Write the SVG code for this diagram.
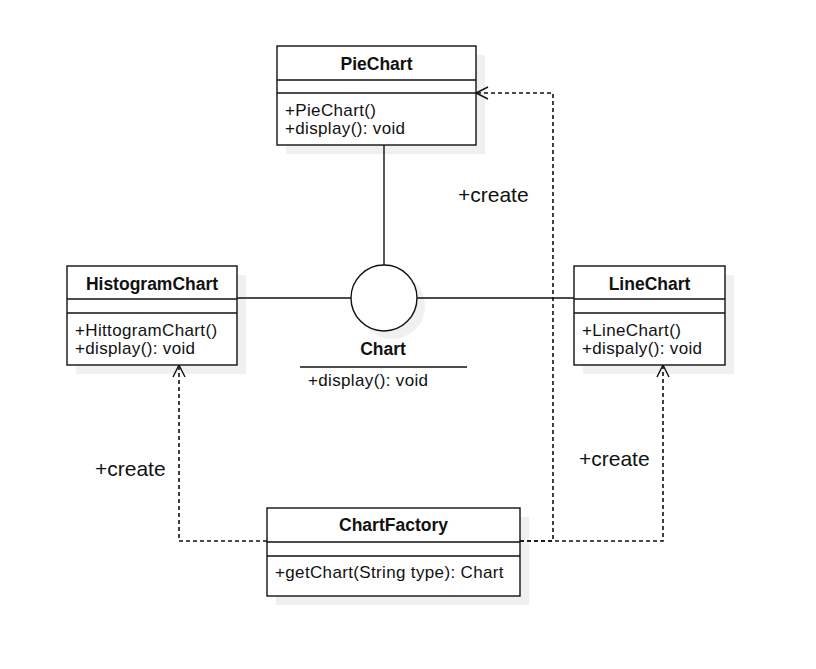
<svg xmlns="http://www.w3.org/2000/svg" width="816" height="669" viewBox="0 0 816 669">
<style>
text{font-family:"Liberation Sans",Arial,sans-serif;fill:#111;}
.t{font-size:17.5px;font-weight:bold;text-anchor:middle;}
.m{font-size:17px;letter-spacing:0.35px;}
.l{font-size:21px;}
.box{fill:#fff;stroke:#111;stroke-width:1.4;}
.sh{fill:#f0f0f0;stroke:none;}
.div{stroke:#111;stroke-width:1.4;}
.solid{fill:none;stroke:#111;stroke-width:1.4;}
.dash{fill:none;stroke:#111;stroke-width:1.6;stroke-dasharray:4 3;}
.arr{fill:none;stroke:#111;stroke-width:1.4;}
</style>
<rect width="816" height="669" fill="#fff"/>
<g id="shadows">
<rect class="sh" x="286" y="55" width="199" height="99"/>
<rect class="sh" x="76" y="275" width="170" height="99"/>
<rect class="sh" x="583" y="275" width="151" height="99"/>
<circle class="sh" cx="392" cy="306" r="33"/>
<rect class="sh" x="276" y="517" width="253" height="88"/>
</g>
<g id="connectors">
<line class="solid" x1="384" y1="145" x2="384" y2="265"/>
<line class="solid" x1="237" y1="298" x2="351" y2="298"/>
<line class="solid" x1="417" y1="298" x2="574" y2="298"/>
<path class="dash" d="M267,541 H179 V366"/>
<path class="arr" d="M173,377 L179,365 L185,377"/>
<path class="dash" d="M520,541 H553 V93 H477"/>
<path class="arr" d="M488,87 L476,93 L488,99"/>
<path class="dash" d="M520,541 H663 V366"/>
<path class="arr" d="M657,377 L663,365 L669,377"/>
<text class="l" x="458" y="202">+create</text>
<text class="l" x="95" y="476">+create</text>
<text class="l" x="579" y="466">+create</text>
</g>
<g id="PieChart">
<rect class="box" x="277" y="46" width="199" height="99"/>
<line class="div" x1="277" y1="80" x2="476" y2="80"/>
<line class="div" x1="277" y1="93" x2="476" y2="93"/>
<text class="t" x="376.5" y="69.5">PieChart</text>
<text class="m" x="285" y="116">+PieChart()</text>
<text class="m" x="285" y="134">+display(): void</text>
</g>
<g id="HistogramChart">
<rect class="box" x="67" y="266" width="170" height="99"/>
<line class="div" x1="67" y1="299" x2="237" y2="299"/>
<line class="div" x1="67" y1="313" x2="237" y2="313"/>
<text class="t" x="152" y="289.5">HistogramChart</text>
<text class="m" x="75" y="336">+HittogramChart()</text>
<text class="m" x="75" y="354">+display(): void</text>
</g>
<g id="LineChart">
<rect class="box" x="574" y="266" width="151" height="99"/>
<line class="div" x1="574" y1="299" x2="725" y2="299"/>
<line class="div" x1="574" y1="313" x2="725" y2="313"/>
<text class="t" x="649.5" y="289.5">LineChart</text>
<text class="m" x="582" y="336">+LineChart()</text>
<text class="m" x="582" y="354">+dispaly(): void</text>
</g>
<g id="Chart">
<circle class="box" cx="384" cy="298" r="33"/>
<text class="t" x="383" y="355">Chart</text>
<line class="div" x1="300" y1="367" x2="467" y2="367"/>
<text class="m" x="308" y="386">+display(): void</text>
</g>
<g id="ChartFactory">
<rect class="box" x="267" y="508" width="253" height="88"/>
<line class="div" x1="267" y1="542" x2="520" y2="542"/>
<line class="div" x1="267" y1="556" x2="520" y2="556"/>
<text class="t" x="393.5" y="531">ChartFactory</text>
<text class="m" x="275" y="578">+getChart(String type): Chart</text>
</g>
</svg>
